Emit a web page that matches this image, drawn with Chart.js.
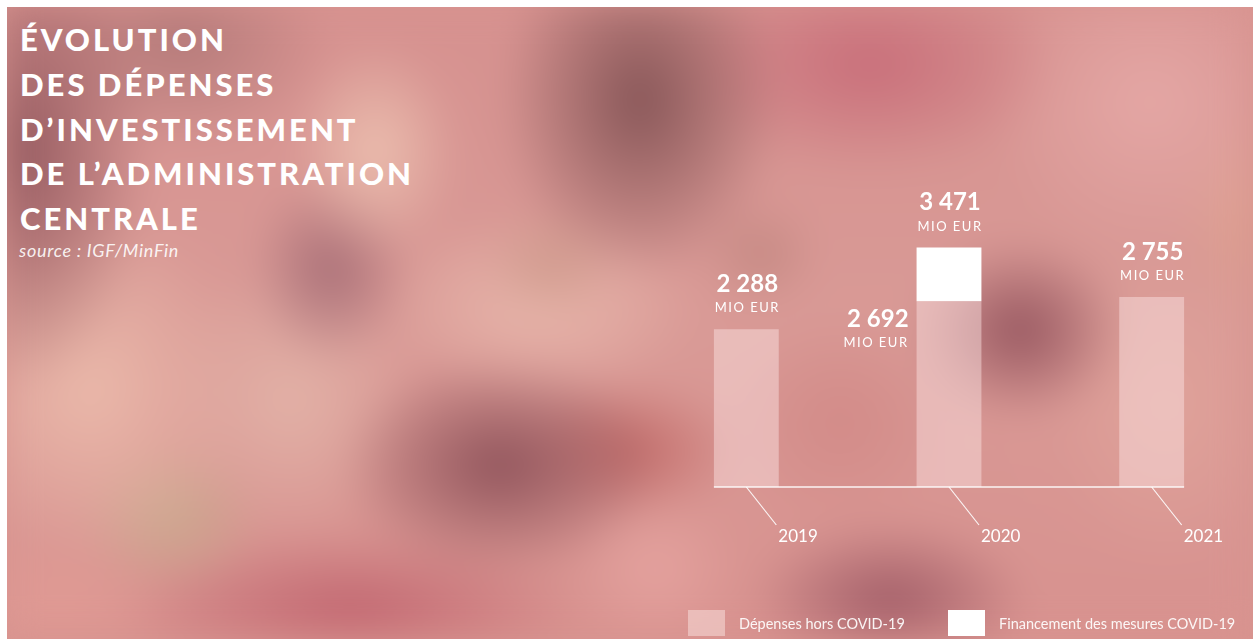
<!DOCTYPE html>
<html>
<head>
<meta charset="utf-8">
<script src="https://cdn.jsdelivr.net/npm/chart.js@4"></script>
<style>
  html, body { margin: 0; padding: 0; background: #fff; }
  #stage { position: relative; width: 1253px; height: 639px; overflow: hidden; background: #d8948f; }
  #photo {
    position: absolute; left: -60px; top: -60px; width: 1373px; height: 759px;
    background-size: 1253px 639px; background-position: 60px 60px; background-repeat: no-repeat;
    filter: blur(18px);
    background-image:
      radial-gradient(ellipse 130px 240px at 20px 150px, rgba(146,88,94,0.95), rgba(146,88,94,0)),
      radial-gradient(ellipse 150px 110px at 180px 40px, rgba(166,112,112,0.7), rgba(166,112,112,0)),
      radial-gradient(ellipse 85px 110px at 375px 150px, rgba(238,195,178,0.9), rgba(238,195,178,0)),
      radial-gradient(ellipse 140px 180px at 640px 100px, rgba(130,82,84,0.95), rgba(130,82,84,0)),
      radial-gradient(ellipse 80px 95px at 330px 270px, rgba(160,104,114,0.85), rgba(160,104,114,0)),
      radial-gradient(ellipse 70px 60px at 550px 265px, rgba(205,152,138,0.85), rgba(205,152,138,0)),
      radial-gradient(ellipse 160px 95px at 540px 305px, rgba(234,186,174,0.9), rgba(234,186,174,0)),
      radial-gradient(ellipse 160px 110px at 500px 465px, rgba(140,80,88,0.95), rgba(140,80,88,0)),
      radial-gradient(ellipse 110px 70px at 630px 450px, rgba(190,100,98,0.85), rgba(190,100,98,0)),
      radial-gradient(ellipse 130px 140px at 290px 400px, rgba(228,182,170,0.85), rgba(228,182,170,0)),
      radial-gradient(ellipse 160px 180px at 90px 390px, rgba(236,188,172,0.9), rgba(236,188,172,0)),
      radial-gradient(ellipse 95px 80px at 170px 515px, rgba(198,172,140,0.8), rgba(198,172,140,0)),
      radial-gradient(ellipse 230px 80px at 350px 610px, rgba(190,96,108,0.85), rgba(190,96,108,0)),
      radial-gradient(ellipse 90px 80px at 655px 570px, rgba(234,168,164,0.7), rgba(234,168,164,0)),
      radial-gradient(ellipse 190px 110px at 870px 65px, rgba(198,104,118,0.85), rgba(198,104,118,0)),
      radial-gradient(ellipse 170px 160px at 1150px 100px, rgba(232,172,170,0.8), rgba(232,172,170,0)),
      radial-gradient(ellipse 70px 110px at 1245px 215px, rgba(222,162,142,0.8), rgba(222,162,142,0)),
      radial-gradient(ellipse 105px 90px at 1020px 330px, rgba(146,82,92,0.95), rgba(146,82,92,0)),
      radial-gradient(ellipse 140px 80px at 890px 600px, rgba(156,88,100,0.9), rgba(156,88,100,0)),
      radial-gradient(ellipse 120px 160px at 1165px 410px, rgba(226,166,156,0.75), rgba(226,166,156,0)),
      radial-gradient(ellipse 60px 55px at 760px 255px, rgba(182,126,118,0.6), rgba(182,126,118,0)),
      radial-gradient(ellipse 130px 70px at 60px 600px, rgba(228,158,150,0.7), rgba(228,158,150,0)),
      radial-gradient(ellipse 120px 110px at 840px 420px, rgba(206,130,128,0.6), rgba(206,130,128,0)),
      linear-gradient(180deg, #d6918f 0%, #d99a96 50%, #d8928f 100%);
  }
  .strip { position: absolute; background: #fff; }
  #title {
    position: absolute; left: 20px; top: 17px; color: #fff;
    font-family: "Lato", sans-serif; font-weight: 900; font-size: 31px;
    line-height: 44.8px; letter-spacing: 3px; white-space: pre;
  }
  #source {
    position: absolute; left: 19px; top: 239px; color: rgba(255,255,255,0.9);
    font-family: "Lato", sans-serif; font-style: italic; font-weight: 400; font-size: 18px;
    letter-spacing: 0.7px;
  }
  #chartBox { position: absolute; left: 0; top: 0; width: 1253px; height: 639px; }
  .legend { position: absolute; top: 610px; height: 26px; display: flex; align-items: center;
    font-family: "Lato", sans-serif; font-size: 14.5px; color: rgba(255,255,255,0.92); }
  .legend i { display: inline-block; width: 37px; height: 26px; margin-right: 14px; }
</style>
</head>
<body>
<div id="stage">
  <div id="photo"></div>
  <div class="strip" style="left:0;top:0;width:1253px;height:7px"></div>
  <div class="strip" style="left:0;top:0;width:7px;height:639px"></div>
  <div id="title">ÉVOLUTION
DES DÉPENSES
D’INVESTISSEMENT
DE L’ADMINISTRATION
CENTRALE</div>
  <div id="source">source : IGF/MinFin</div>
  <div id="chartBox"><canvas id="spend"></canvas></div>
  <div class="legend" style="left:688px"><i style="background:rgba(245,215,212,0.6)"></i>Dépenses hors COVID-19</div>
  <div class="legend" style="left:948px"><i style="background:#fff"></i>Financement des mesures COVID-19</div>
</div>
<script>
const years = ["2019", "2020", "2021"];
const baseSpend = [2288, 2692, 2755];
const covidSpend = [0, 779, 0];
const unitLabel = "MIO EUR";
const seriesNames = ["Dépenses hors COVID-19", "Financement des mesures COVID-19"];

function fmt(v) {
  return v.toString().replace(/\B(?=(\d{3})+(?!\d))/g, " ");
}

const annotate = {
  id: "annotate",
  afterDatasetsDraw(chart) {
    const ctx = chart.ctx;
    const base = chart.getDatasetMeta(0).data;
    const covid = chart.getDatasetMeta(1).data;
    const y0 = chart.scales.y.getPixelForValue(0);

    ctx.save();
    ctx.strokeStyle = "rgba(255,255,255,0.9)";
    ctx.lineWidth = 1.5;
    ctx.beginPath();
    ctx.moveTo(base[0].x - base[0].width / 2, y0);
    ctx.lineTo(base[base.length - 1].x + base[base.length - 1].width / 2, y0);
    ctx.stroke();

    ctx.fillStyle = "#fff";
    ctx.textBaseline = "middle";
    base.forEach((bar, i) => {
      // leader line + year
      ctx.lineWidth = 1.2;
      ctx.beginPath();
      ctx.moveTo(bar.x, y0);
      ctx.lineTo(bar.x + 30, y0 + 38);
      ctx.stroke();
      ctx.font = "17px Lato";
      ctx.letterSpacing = "0px";
      ctx.textAlign = "left";
      ctx.fillText(years[i], bar.x + 32, y0 + 50);

      const total = baseSpend[i] + covidSpend[i];
      const top = covidSpend[i] > 0 ? covid[i].y : bar.y;
      ctx.textAlign = "center";
      ctx.font = "bold 24px Lato";
      ctx.letterSpacing = "0px";
      ctx.fillText(fmt(total), bar.x + 1, top - 45);
      ctx.font = "13px Lato";
      ctx.letterSpacing = "1.5px";
      ctx.fillText(unitLabel, bar.x + 1, top - 21);

      if (covidSpend[i] > 0) {
        const right = bar.x - bar.width / 2 - 8;
        ctx.textAlign = "right";
        ctx.font = "bold 24px Lato";
        ctx.letterSpacing = "0px";
        ctx.fillText(fmt(baseSpend[i]), right, bar.y + 18);
        ctx.font = "13px Lato";
        ctx.letterSpacing = "1.5px";
        ctx.fillText(unitLabel, right, bar.y + 42);
      }
    });
    ctx.restore();
  },
};

document.addEventListener("DOMContentLoaded", () => {
  const ctx = document.getElementById("spend").getContext("2d");

  new Chart(ctx, {
    type: "bar",
    data: {
      labels: years,
      datasets: [
        {
          label: seriesNames[0],
          data: baseSpend,
          backgroundColor: "rgba(250,226,226,0.48)",
          borderWidth: 0,
          barPercentage: 0.32,
          categoryPercentage: 1,
        },
        {
          label: seriesNames[1],
          data: covidSpend,
          backgroundColor: "#ffffff",
          borderWidth: 0,
          barPercentage: 0.32,
          categoryPercentage: 1,
        },
      ],
    },
    options: {
      responsive: true,
      maintainAspectRatio: false,
      animation: false,
      layout: {
        padding: { left: 645, right: 0, top: 142, bottom: 152 },
      },
      plugins: {
        legend: { display: false },
        tooltip: { enabled: false },
      },
      scales: {
        x: { stacked: true, display: false, offset: true },
        y: { stacked: true, display: false, min: 0, max: 5000 },
      },
    },
    plugins: [annotate],
  });
});
</script>
</body>
</html>
